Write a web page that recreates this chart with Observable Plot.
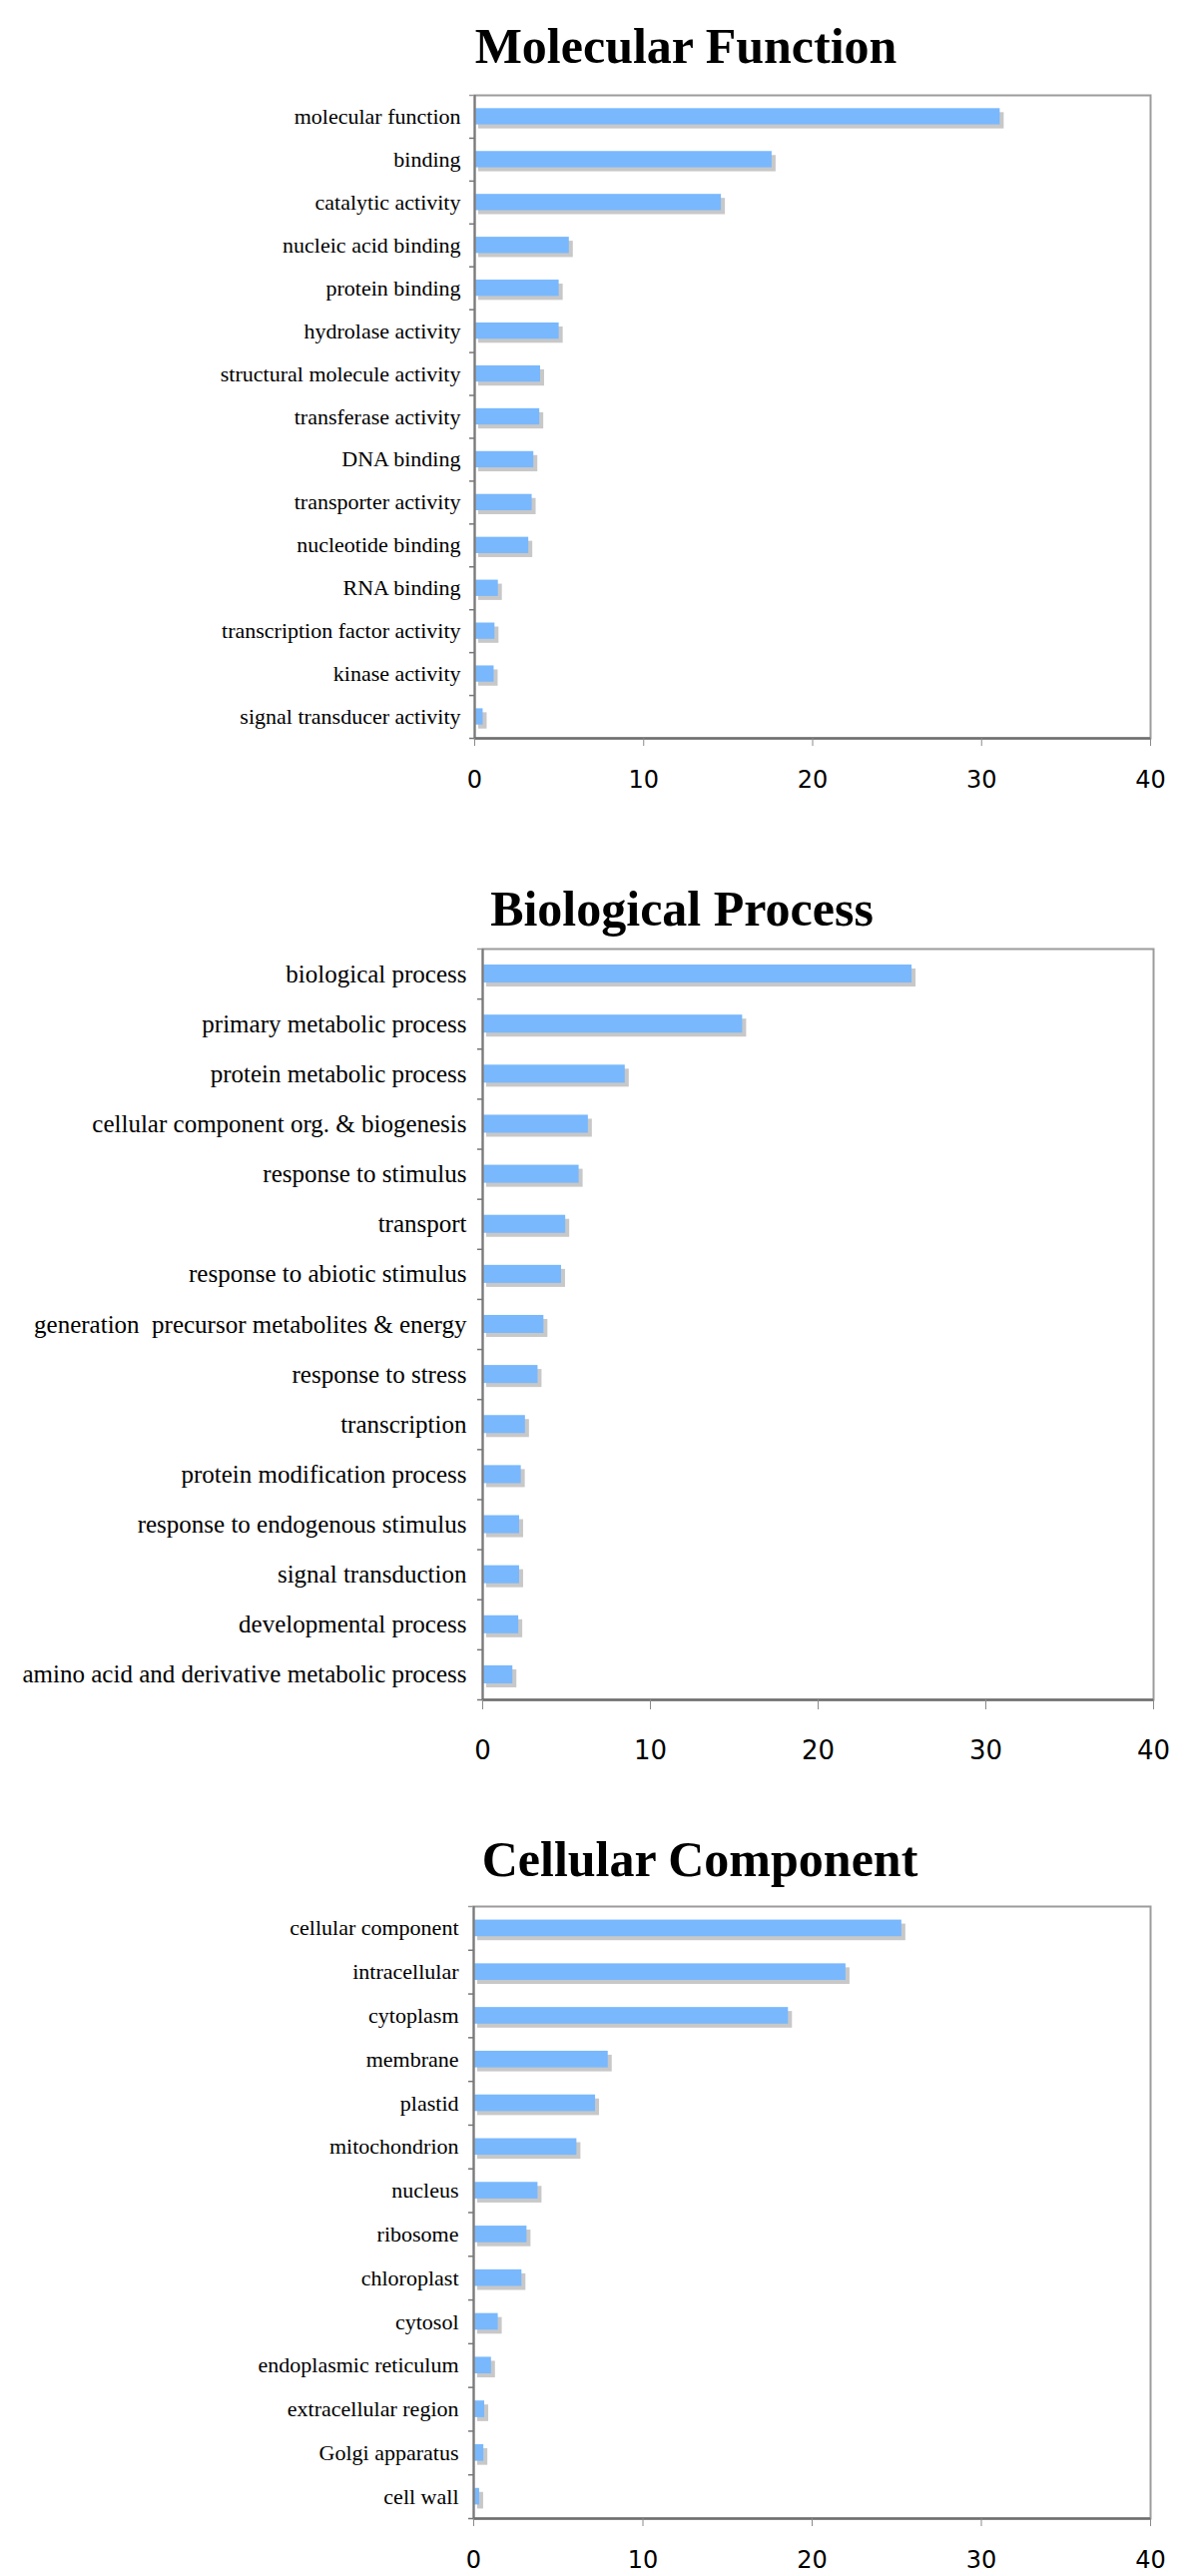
<!DOCTYPE html>
<html>
<head>
<meta charset="utf-8">
<script src="https://cdn.jsdelivr.net/npm/d3@7"></script>
<script src="https://cdn.jsdelivr.net/npm/@observablehq/plot@0.6"></script>
<style>
  html, body { margin: 0; padding: 0; background: #ffffff; }
  #page { position: relative; width: 1200px; height: 2580px; background: #ffffff; overflow: hidden; }
  .panel { position: absolute; left: 0; z-index: 1; }
  .title {
    position: absolute; z-index: 2; width: 700px; text-align: center;
    font-family: "Liberation Serif", "Times New Roman", serif; font-weight: bold;
    font-size: 50px; line-height: 50px; color: #000;
  }
</style>
</head>
<body>
<div id="page"></div>
<script>
// ---------- Molecular Function ----------
const mfCategories = [
  "molecular function", "binding", "catalytic activity", "nucleic acid binding",
  "protein binding", "hydrolase activity", "structural molecule activity",
  "transferase activity", "DNA binding", "transporter activity", "nucleotide binding",
  "RNA binding", "transcription factor activity", "kinase activity", "signal transducer activity"
];
const mfValues = [31.1, 17.6, 14.6, 5.6, 5.0, 5.0, 3.9, 3.85, 3.5, 3.4, 3.2, 1.4, 1.2, 1.15, 0.5];

// ---------- Biological Process ----------
const bpCategories = [
  "biological process", "primary metabolic process", "protein metabolic process",
  "cellular component org. & biogenesis", "response to stimulus", "transport",
  "response to abiotic stimulus", "generation  precursor metabolites & energy",
  "response to stress", "transcription", "protein modification process",
  "response to endogenous stimulus", "signal transduction", "developmental process",
  "amino acid and derivative metabolic process"
];
const bpValues = [25.6, 15.5, 8.5, 6.3, 5.75, 4.95, 4.7, 3.65, 3.3, 2.55, 2.3, 2.2, 2.2, 2.15, 1.8];

// ---------- Cellular Component ----------
const ccCategories = [
  "cellular component", "intracellular", "cytoplasm", "membrane", "plastid",
  "mitochondrion", "nucleus", "ribosome", "chloroplast", "cytosol",
  "endoplasmic reticulum", "extracellular region", "Golgi apparatus", "cell wall"
];
const ccValues = [25.3, 22.0, 18.6, 7.95, 7.2, 6.1, 3.8, 3.15, 2.85, 1.45, 1.05, 0.65, 0.6, 0.35];

const xTicks = [0, 10, 20, 30, 40];
const xDomain = [0, 40];

const page = document.getElementById("page");

function addTitle(text, centerX, top) {
  const t = document.createElement("div");
  t.className = "title";
  t.textContent = text;
  t.style.left = (centerX - 350) + "px";
  t.style.top = top + "px";
  page.appendChild(t);
}

function addPanel(o) {
  const data = o.cats.map((c, i) => ({category: c, value: o.vals[i]}));
  const step = o.frameH / o.cats.length;
  const chart = Plot.plot({
    width: 1200,
    height: o.marginTop + o.frameH + o.marginBottom,
    marginTop: o.marginTop,
    marginBottom: o.marginBottom,
    marginLeft: o.left,
    marginRight: 1200 - o.right,
    style: {fontFamily: "'Liberation Serif', 'Times New Roman', serif", fontSize: o.labelSize + "px", color: "#000", background: "transparent"},
    x: {domain: xDomain, label: null},
    y: {domain: o.cats, paddingInner: o.pad, paddingOuter: o.pad / 2, round: false, label: null},
    marks: [
      Plot.barX(data, {x: "value", y: "category", fill: "#c8c8c8", dx: 4, dy: 4}),
      Plot.barX(data, {x: "value", y: "category", fill: "#79b8fd"}),
      Plot.frame({stroke: "#9c9c9c", strokeWidth: 2}),
      Plot.ruleX([0], {stroke: "#7a7a7a", strokeWidth: 2}),
      Plot.ruleY([o.cats[o.cats.length - 1]], {y: d => d, dy: step / 2, stroke: "#6e6e6e", strokeWidth: 2.5}),
      Plot.axisY({tickSize: 0, tickPadding: o.labelPad, fontSize: o.labelSize, fill: "#000", label: null}),
      Plot.axisY({tickSize: 5, tickFormat: () => "", dy: step / 2, stroke: "#777", strokeWidth: 1.5, label: null}),
      Plot.axisY([o.cats[0]], {tickSize: 5, tickFormat: () => "", dy: -step / 2, stroke: "#999", strokeWidth: 1.5, label: null}),
      Plot.axisX({ticks: xTicks, tickSize: o.tickSize, tickPadding: o.tickPad, label: null,
        fontFamily: "'DejaVu Sans', Verdana, sans-serif", fontSize: o.tickFont, stroke: "#8a8a8a", fill: "#000"})
    ]
  });
  const holder = document.createElement("div");
  holder.className = "panel";
  holder.style.top = o.top + "px";
  holder.appendChild(chart);
  page.appendChild(holder);
}

addPanel({cats: mfCategories, vals: mfValues, top: 0, marginTop: 95, frameH: 644, marginBottom: 61,
  left: 475, right: 1152, labelSize: 22, labelPad: 14, pad: 0.62, tickSize: 8, tickPad: 24, tickFont: 24});
addPanel({cats: bpCategories, vals: bpValues, top: 860, marginTop: 90, frameH: 752, marginBottom: 78,
  left: 483, right: 1155, labelSize: 25, labelPad: 16, pad: 0.64, tickSize: 10, tickPad: 31, tickFont: 26});
addPanel({cats: ccCategories, vals: ccValues, top: 1830, marginTop: 79, frameH: 613, marginBottom: 58,
  left: 474, right: 1152, labelSize: 22, labelPad: 15, pad: 0.62, tickSize: 8, tickPad: 24, tickFont: 24});

addTitle("Molecular Function", 687, 21);
addTitle("Biological Process", 683, 885);
addTitle("Cellular Component", 701, 1837);
</script>
</body>
</html>
